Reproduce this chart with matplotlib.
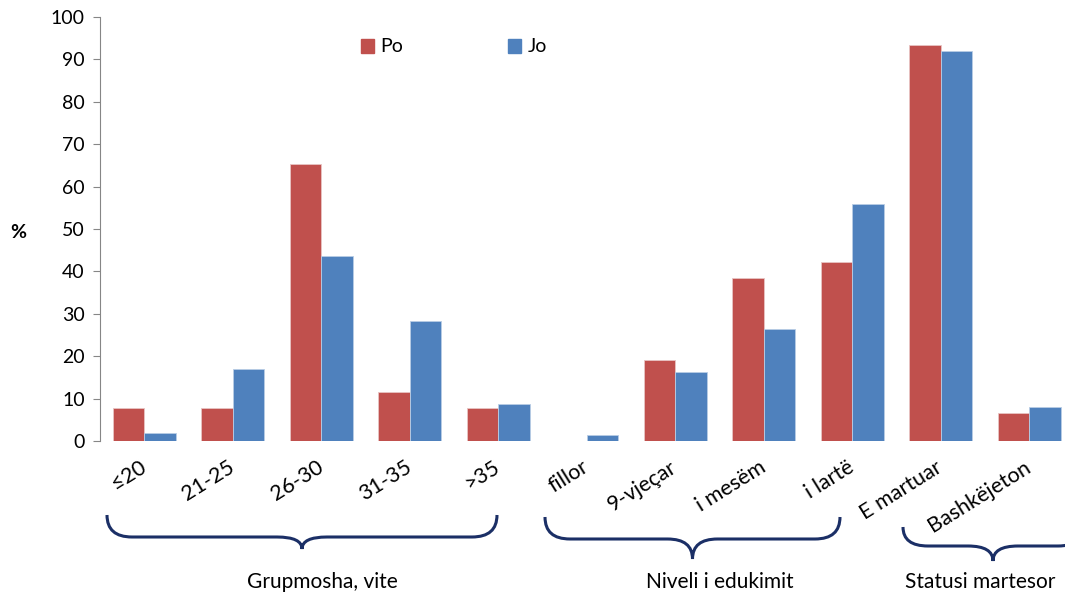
import matplotlib
matplotlib.use("Agg")
import matplotlib.pyplot as plt
import matplotlib.transforms as mtransforms
import numpy as np
from matplotlib.patches import Patch, PathPatch
from matplotlib.path import Path

plt.rcParams["font.family"] = ["Lato", "DejaVu Sans"]

W, H = 1065, 596

categories = ["≤20", "21-25", "26-30", "31-35", ">35",
              "fillor", "9-vjeçar", "i mesëm", "i lartë",
              "E martuar", "Bashkëjeton"]
po = [7.7, 7.7, 65.4, 11.5, 7.7, 0.0, 19.2, 38.5, 42.3, 93.3, 6.7]
jo = [1.9, 17.0, 43.7, 28.3, 8.7, 1.3, 16.3, 26.4, 55.8, 91.9, 8.0]
series_names = ["Po", "Jo"]
groups = ["Grupmosha, vite", "Niveli i edukimit", "Statusi martesor"]

RED = "#C0504D"
BLUE = "#4F81BD"
NAVY = "#1B2F66"

fig = plt.figure(figsize=(W / 100, H / 100), dpi=100)
# axes in pixel terms: left 100, top 17, bottom 441, category width 88.5 px
ax = fig.add_axes([100 / W, (H - 441) / H, 973.5 / W, 424 / H])

x = np.arange(len(categories))
bw = 0.356
ax.bar(x - bw / 2, po, bw, color=RED, edgecolor="#E8C4C3", linewidth=0.6)
ax.bar(x + bw / 2, jo, bw, color=BLUE, edgecolor="#B9CDE5", linewidth=0.6)

ax.set_xlim(-0.5, len(categories) - 0.5)
ax.set_ylim(0, 100)
ax.set_yticks(np.arange(0, 101, 10))
ax.tick_params(axis="y", labelsize=14, length=5, color="#868686", pad=6)
ax.tick_params(axis="x", length=0, pad=6)
for s in ["top", "right", "bottom"]:
    ax.spines[s].set_visible(False)
ax.spines["left"].set_color("#868686")

ax.set_xticks(x)
ax.set_xticklabels(categories, rotation=32, ha="right", va="center",
                   rotation_mode="anchor", fontsize=15.5)
for lbl in ax.get_xticklabels():
    lbl.set_transform(lbl.get_transform() + mtransforms.ScaledTranslation(0.0, -0.16, fig.dpi_scale_trans))

fig.text(18 / W, 1 - 232 / H, "%", fontsize=14, fontweight="bold",
         ha="center", va="center")

handles = [Patch(color=RED), Patch(color=BLUE)]
fig.legend(handles, series_names, ncol=2, loc="center left",
           bbox_to_anchor=(343 / W, 1 - 47 / H), frameon=False, fontsize=14,
           handlelength=0.7, handleheight=0.7, handletextpad=0.3,
           columnspacing=5.4)

# curly braces below the tick labels, in pixel coords from the top-left
pix = mtransforms.Affine2D().scale(1 / W, -1 / H).translate(0, 1) + fig.transFigure


def brace(x0, x1, ytop, ymid, ytip, xc=None):
    if xc is None:
        xc = (x0 + x1) / 2
    r = 25
    verts = [
        (x0, ytop), (x0, ymid), (x0 + r, ymid),
        (xc - r, ymid), (xc, ymid), (xc, ytip),
        (xc, ymid), (xc + r, ymid),
        (x1 - r, ymid), (x1, ymid), (x1, ytop),
    ]
    codes = [Path.MOVETO, Path.CURVE3, Path.CURVE3,
             Path.LINETO, Path.CURVE3, Path.CURVE3,
             Path.CURVE3, Path.CURVE3,
             Path.LINETO, Path.CURVE3, Path.CURVE3]
    fig.add_artist(PathPatch(Path(verts, codes), transform=pix, fill=False,
                             edgecolor=NAVY, linewidth=2.2, clip_on=False))


brace(107, 497, 515, 537, 549)
brace(545, 840, 517, 539, 559)
brace(903, 1083, 527, 546, 561, xc=993)

fig.text(322 / W, 1 - 582 / H, groups[0], fontsize=15, ha="center", va="center")
fig.text(720 / W, 1 - 582 / H, groups[1], fontsize=15, ha="center", va="center")
fig.text(905 / W, 1 - 582 / H, groups[2], fontsize=15, ha="left", va="center")

fig.savefig("out.png", dpi=100)
